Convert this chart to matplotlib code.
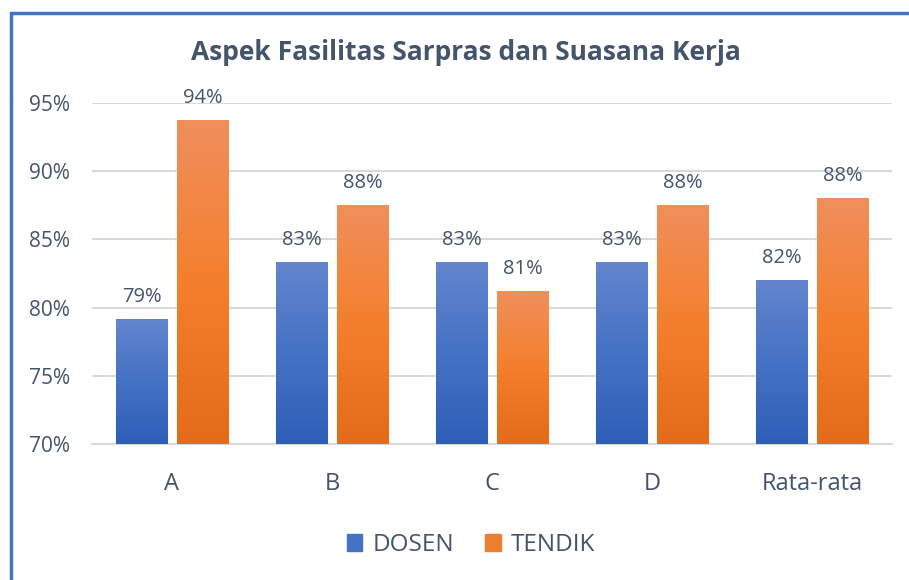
import numpy as np
import matplotlib
matplotlib.use("Agg")
import matplotlib.pyplot as plt
from matplotlib.patches import Rectangle
from matplotlib.colors import LinearSegmentedColormap

categories = ["A", "B", "C", "D", "Rata-rata"]
dosen = [0.7917, 0.8333, 0.8333, 0.8333, 0.82]
tendik = [0.9375, 0.875, 0.8125, 0.875, 0.88]
labels_dosen = ["79%", "83%", "83%", "83%", "82%"]
labels_tendik = ["94%", "88%", "81%", "88%", "88%"]

plt.rcParams["font.family"] = ["Open Sans", "DejaVu Sans"]
text_color = "#44546A"

blue_cmap = LinearSegmentedColormap.from_list("b", ["#2E5FB8", "#4472C4", "#6485CE"])
orange_cmap = LinearSegmentedColormap.from_list("o", ["#E36B19", "#F47F2C", "#F08F5C"])

fig = plt.figure(figsize=(9.09, 5.8), dpi=100)
ax = fig.add_axes([92 / 909, 1 - 444 / 580, 800 / 909, 341 / 580])

x = np.arange(len(categories))
w = 0.32
off = 0.19
ymin, ymax = 0.70, 0.95
grad = np.linspace(0, 1, 256).reshape(-1, 1)


def gradient_bars(xs, vals, cmap, color):
    bars = ax.bar(xs, np.array(vals) - ymin, w, bottom=ymin, color=color, zorder=2)
    for b in bars:
        im = ax.imshow(grad, cmap=cmap, origin="lower", aspect="auto",
                       extent=[b.get_x(), b.get_x() + b.get_width(), ymin, b.get_y() + b.get_height()],
                       zorder=3)
        im.set_clip_path(b)
    return bars


gradient_bars(x - off, dosen, blue_cmap, "#4472C4")
gradient_bars(x + off, tendik, orange_cmap, "#ED7D31")

for xi, v, t in zip(x - off, dosen, labels_dosen):
    ax.text(xi, v + 0.0125, t, ha="center", va="baseline", fontsize=14.5, color=text_color, clip_on=False)
for xi, v, t in zip(x + off, tendik, labels_tendik):
    ax.text(xi, v + 0.0125, t, ha="center", va="baseline", fontsize=14.5, color=text_color, clip_on=False)

ax.set_xlim(-0.5, 4.5)
ax.set_ylim(ymin, ymax)
ax.set_yticks([0.70, 0.75, 0.80, 0.85, 0.90, 0.95])
ax.set_yticklabels(["70%", "75%", "80%", "85%", "90%", "95%"])
ax.set_xticks(x)
ax.set_xticklabels(categories)
ax.tick_params(axis="y", length=0, labelsize=15, labelcolor=text_color, pad=16)
ax.tick_params(axis="x", length=0, labelsize=17, labelcolor=text_color, pad=20)
ax.grid(axis="y", color="#D9D9D9", linewidth=1.5, zorder=0)
ax.set_axisbelow(True)
for s in ["top", "right", "left"]:
    ax.spines[s].set_visible(False)
ax.spines["bottom"].set_color("#D9D9D9")
ax.spines["bottom"].set_linewidth(1.5)

fig.text(466 / 909, 1 - 52 / 580, "Aspek Fasilitas Sarpras dan Suasana Kerja",
         ha="center", va="center", fontsize=19, fontweight="bold", color=text_color)

# legend
handles = [Rectangle((0, 0), 1, 1, color="#4472C4"), Rectangle((0, 0), 1, 1, color="#ED7D31")]
fig.legend(handles, ["DOSEN", "TENDIK"], loc="center", bbox_to_anchor=(471 / 909, 1 - 545 / 580),
           ncol=2, frameon=False, fontsize=17.5, labelcolor=text_color,
           handlelength=0.65, handleheight=0.65, handletextpad=0.4, columnspacing=1.3)

# chart frame (extends beyond the right and bottom edges)
fig.patches.append(Rectangle((11 / 909, -0.2), 1.5, 1 - 13 / 580 + 0.2, transform=fig.transFigure,
                             fill=False, edgecolor="#4472C4", linewidth=2.5, zorder=10))

fig.savefig("out.png", dpi=100)
